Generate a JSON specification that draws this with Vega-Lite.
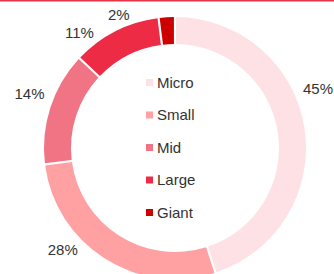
{
  "$schema": "https://vega.github.io/schema/vega-lite/v6.json",
  "autosize": "none",
  "width": 350,
  "height": 296,
  "padding": {"left": 0, "top": 0, "right": -16, "bottom": -22},
  "background": "#ffffff",
  "config": {
    "view": {"stroke": null},
    "font": "Liberation Sans"
  },
  "data": {
    "values": [
      {"size": "Micro", "share": 0.45},
      {"size": "Small", "share": 0.28},
      {"size": "Mid", "share": 0.14},
      {"size": "Large", "share": 0.11},
      {"size": "Giant", "share": 0.02}
    ]
  },
  "layer": [
    {
      "mark": {"type": "arc", "radius": 131, "radius2": 104, "padAngle": 0.013},
      "encoding": {
        "theta": {"field": "share", "type": "quantitative", "stack": true},
        "order": {"field": "share", "sort": "descending"},
        "color": {
          "field": "size",
          "type": "nominal",
          "scale": {
            "domain": ["Micro", "Small", "Mid", "Large", "Giant"],
            "range": ["#fde1e5", "#ffa1a3", "#f17485", "#ee2b45", "#cc0000"]
          },
          "legend": {
            "title": null,
            "orient": "none",
            "legendX": 142,
            "legendY": 75,
            "padding": 0,
            "symbolType": "square",
            "symbolSize": 49,
            "symbolStrokeWidth": 0,
            "labelFontSize": 15,
            "labelColor": "#333333",
            "labelFont": "Liberation Sans",
            "labelOffset": 0,
            "rowPadding": 16.5
          }
        }
      }
    },
    {
      "mark": {
        "type": "text",
        "radius": 141,
        "fontSize": 15,
        "color": "#333333",
        "font": "Liberation Sans",
        "baseline": "middle",
        "align": {"expr": "datum.share_start + datum.share_end < 1 ? 'left' : 'right'"}
      },
      "encoding": {
        "theta": {
          "field": "share",
          "type": "quantitative",
          "stack": true,
          "scale": {
            "domain": [0, 0.225, 0.59, 0.8, 0.925, 0.99, 1],
            "range": [0, 1.138, 3.9025, 5.1016, 5.6706, 5.9551, 6.2832]
          }
        },
        "order": {"field": "share", "sort": "descending"},
        "text": {"field": "share", "type": "quantitative", "format": ".0%"}
      }
    },
    {
      "data": {"values": [{"edge": 1}]},
      "mark": {"type": "rule", "color": "#e63347", "strokeWidth": 3},
      "encoding": {
        "y": {"field": "edge", "type": "quantitative", "scale": {"domain": [0, 1]}, "axis": null}
      }
    }
  ],
  "resolve": {"scale": {"theta": "independent"}}
}
